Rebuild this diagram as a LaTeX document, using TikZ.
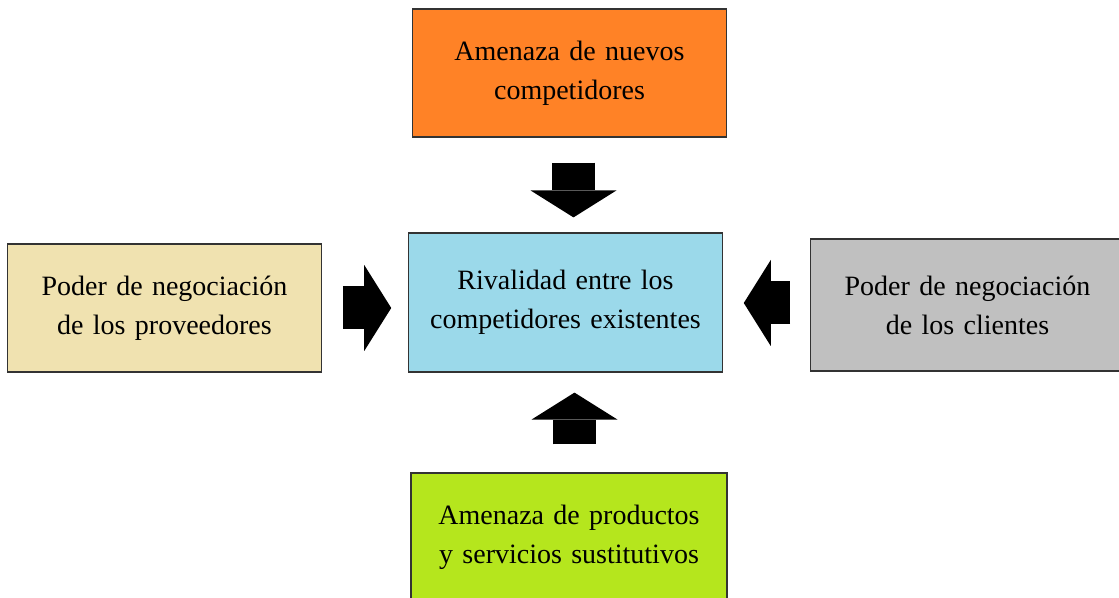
\documentclass[tikz,border=0pt]{standalone}
\usepackage{fontspec}
\setmainfont{Liberation Serif}
\usetikzlibrary{arrows.meta}
\usetikzlibrary{positioning}

\definecolor{naranja}{RGB}{255,130,38}
\definecolor{arena}{RGB}{240,226,176}
\definecolor{celeste}{RGB}{155,217,234}
\definecolor{gris}{RGB}{192,192,192}
\definecolor{lima}{RGB}{181,230,29}

\begin{document}
\begin{tikzpicture}[
    x=0.5pt, y=-0.5pt,
    every node/.style={
        font=\fontsize{14}{19.5}\selectfont
    },
    fuerza/.style={
        minimum width=155pt, minimum height=64pt,
        text width=150pt,
        align=center,
        rectangle,
        draw=black!80,
        line width=0.6pt
    },
    flecha/.style={
        line width=21.5pt,
        -{Triangle[width=43pt,length=13.5pt,line width=0pt]}
    }
]
\useasboundingbox (0,0) rectangle (1119,598);

\node (n1) [fuerza, fill=naranja, minimum width=156.5pt] at (569.5,73)
    {Amenaza de nuevos\\ competidores};
\node (n2) [fuerza, fill=arena, minimum width=154.5pt] at (164.5,308)
    {Poder de negociación\\ de los proveedores};
\node (n3) [fuerza, fill=celeste, minimum width=155.5pt, minimum height=69.5pt] at (565.5,302.5)
    {Rivalidad entre los\\ competidores existentes};
\node (n4) [fuerza, fill=gris, minimum width=154.5pt, minimum height=66pt] at (967.5,305)
    {Poder de negociación\\ de los clientes};
\node (n5) [fuerza, fill=lima, minimum width=158pt] at (569,537)
    {Amenaza de productos\\ y servicios sustitutivos};

\draw[flecha] ([xshift=2pt,yshift=-12.5pt]n1.south) -- ([xshift=4pt,yshift=7.5pt]n3.north);
\draw[flecha] ([xshift=10.5pt]n2.east) -- ([xshift=-8.5pt,yshift=-2.75pt]n3.west);
\draw[flecha] ([xshift=-10pt,yshift=1pt]n4.west) -- ([xshift=10.5pt,yshift=-0.25pt]n3.east);
\draw[flecha] ([xshift=2.75pt,yshift=14pt]n5.north) -- ([xshift=4.5pt,yshift=-10pt]n3.south);
\end{tikzpicture}
\end{document}
